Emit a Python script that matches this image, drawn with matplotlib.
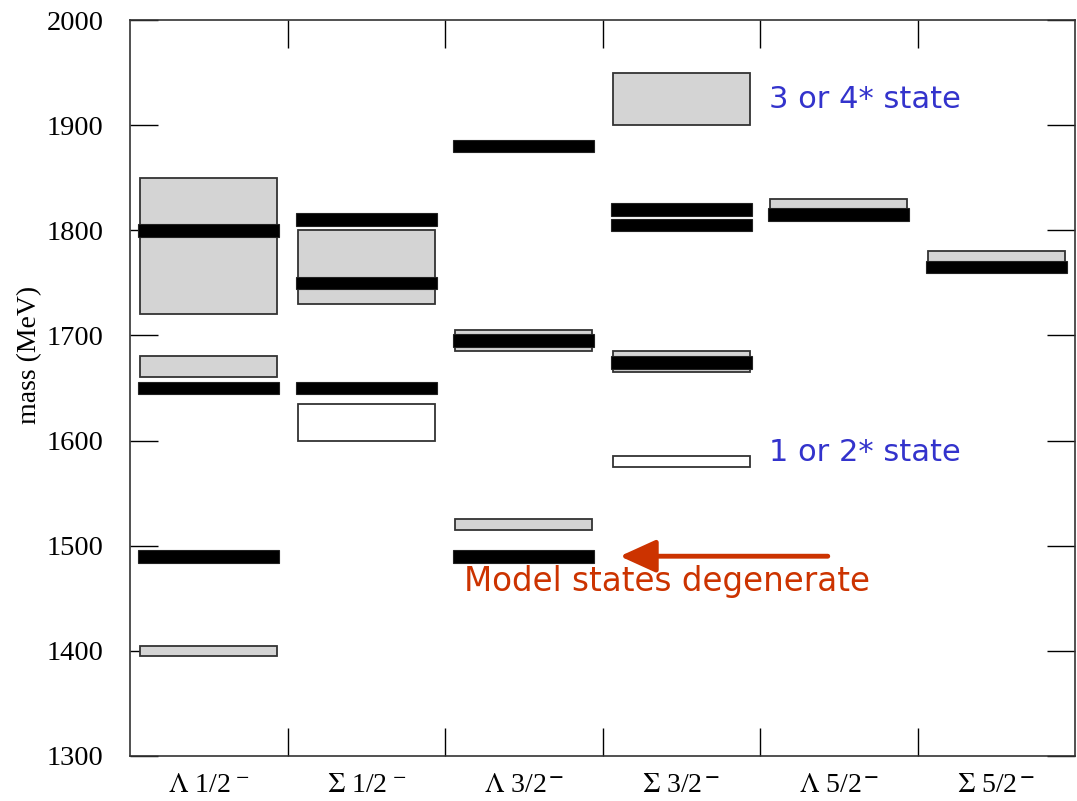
import matplotlib
matplotlib.use('Agg')
import matplotlib.pyplot as plt
from matplotlib.patches import Rectangle

plt.rcParams['font.family'] = ['Liberation Serif', 'DejaVu Serif']
plt.rcParams['mathtext.fontset'] = 'stix'

# channel labels
labels = [r'$\mathrm{\Lambda}$ 1/2$^{\,-}$', r'$\mathrm{\Sigma}$ 1/2$^{\,-}$',
          r'$\mathrm{\Lambda}$ 3/2$^{\,\mathbf{-}}$', r'$\mathrm{\Sigma}$ 3/2$^{\,\mathbf{-}}$',
          r'$\mathrm{\Lambda}$ 5/2$^{\,\mathbf{-}}$', r'$\mathrm{\Sigma}$ 5/2$^{\,\mathbf{-}}$']

# 3 or 4* states: (column, low, high) in MeV
strong_col = [0, 0, 0, 1, 2, 2, 3, 3, 4, 5]
strong_lo = [1720, 1660, 1395, 1730, 1685, 1515, 1900, 1665, 1810, 1770]
strong_hi = [1850, 1680, 1405, 1800, 1705, 1525, 1950, 1685, 1830, 1780]

# 1 or 2* states
weak_col = [1, 3]
weak_lo = [1600, 1575]
weak_hi = [1635, 1585]

# model states (centre masses)
model_col = [0, 0, 0, 1, 1, 1, 2, 2, 2, 3, 3, 3, 4, 5]
model_mass = [1800, 1650, 1490, 1810, 1750, 1650, 1880, 1695, 1490,
              1820, 1805, 1674, 1815, 1765]


def main():
    fig = plt.figure(figsize=(10.77, 8.01), dpi=100)
    ax = fig.add_axes([0.1207, 0.0562, 0.8775, 0.9188])

    for c, lo, hi in zip(strong_col, strong_lo, strong_hi):
        ax.add_patch(Rectangle((c + 0.065, lo), 0.87, hi - lo,
                               facecolor='#d4d4d4', edgecolor='#333333',
                               linewidth=1.3, zorder=2))
    for c, lo, hi in zip(weak_col, weak_lo, weak_hi):
        ax.add_patch(Rectangle((c + 0.065, lo), 0.87, hi - lo,
                               facecolor='white', edgecolor='#333333',
                               linewidth=1.3, zorder=2))
    for c, m in zip(model_col, model_mass):
        ax.add_patch(Rectangle((c + 0.052, m - 6), 0.896, 12,
                               facecolor='black', edgecolor='#222222',
                               linewidth=0.8, zorder=3))

    ax.set_xlim(0, 6)
    ax.set_ylim(1300, 2000)

    # column boundaries as ticks, labels at the centres
    ax.set_xticks([1, 2, 3, 4, 5])
    ax.set_xticklabels([])
    ax.set_xticks([i + 0.5 for i in range(6)], minor=True)
    ax.set_xticklabels(labels, minor=True, fontsize=20)
    ax.tick_params(axis='x', which='minor', length=0, pad=12)
    ax.tick_params(axis='x', which='major', direction='in', length=20,
                   top=True, width=1)
    ax.set_yticks(range(1300, 2001, 100))
    ax.tick_params(axis='y', which='major', direction='in', length=20,
                   right=True, width=1, labelsize=20.5, pad=19)
    ax.set_ylabel('mass (MeV)', fontsize=20)
    ax.yaxis.set_label_coords(-0.093, 0.545)
    for s in ax.spines.values():
        s.set_linewidth(1.2)
        s.set_color('#333333')

    ax.text(4.06, 1924, '3 or 4* state', color='#3333cc', fontsize=22,
            family='DejaVu Sans', va='center')
    ax.text(4.06, 1589, '1 or 2* state', color='#3333cc', fontsize=22,
            family='DejaVu Sans', va='center')

    ax.annotate('', xy=(3.11, 1490), xytext=(4.43, 1490),
                arrowprops=dict(arrowstyle='-|>,head_length=2.2,head_width=1.0',
                                color='#cc3300', lw=3.5, shrinkA=0, shrinkB=0))
    ax.text(3.41, 1466, 'Model states degenerate', color='#cc3300',
            fontsize=23.5, family='DejaVu Sans', ha='center', va='center')

    fig.savefig('out.png', dpi=100)


if __name__ == '__main__':
    main()
